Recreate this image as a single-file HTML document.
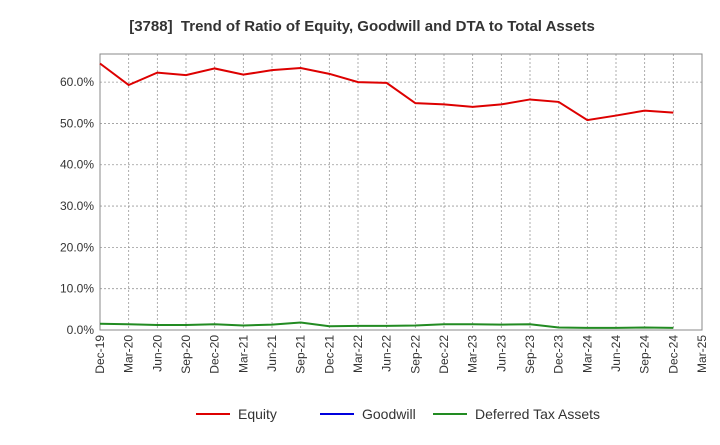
<!DOCTYPE html>
<html><head><meta charset="utf-8"><style>
body{margin:0;background:#fff;font-family:"Liberation Sans",sans-serif;}
</style></head><body>
<svg id="c" width="720" height="440" xmlns="http://www.w3.org/2000/svg">
<text x="362" y="31" text-anchor="middle" font-size="15" font-weight="bold" fill="#333" xml:space="preserve">[3788]  Trend of Ratio of Equity, Goodwill and DTA to Total Assets</text>
</svg>
<script>
const categories=["Dec-19","Mar-20","Jun-20","Sep-20","Dec-20","Mar-21","Jun-21","Sep-21","Dec-21","Mar-22","Jun-22","Sep-22","Dec-22","Mar-23","Jun-23","Sep-23","Dec-23","Mar-24","Jun-24","Sep-24","Dec-24","Mar-25"];
const equity=[64.5,59.3,62.3,61.7,63.3,61.8,62.9,63.4,62.0,60.0,59.8,54.9,54.6,54.0,54.6,55.8,55.2,50.8,51.9,53.1,52.6];
const goodwill=[null,null,null,null,null,null,null,null,null,null,null,null,null,null,null,null,null,null,null,null,null];
const dta=[1.5,1.4,1.2,1.2,1.4,1.1,1.3,1.8,0.9,1.0,1.0,1.1,1.4,1.4,1.3,1.4,0.6,0.5,0.5,0.6,0.5];
const yTicks=[0,10,20,30,40,50,60];
const svg=document.getElementById('c');const NS='http://www.w3.org/2000/svg';
const L=100,R=702,T=54,B=330,yMax=66.8;
const x=i=>L+(R-L)*i/(categories.length-1);
const y=v=>B-(B-T)*v/yMax;
function mk(t,a,p){const e=document.createElementNS(NS,t);for(const k in a)e.setAttribute(k,a[k]);(p||svg).appendChild(e);return e;}
const g=mk('g',{});


categories.forEach((c,i)=>{
 if(i>0&&i<categories.length-1)mk('line',{x1:x(i),x2:x(i),y1:T,y2:B,stroke:'#999','stroke-dasharray':'2,2','stroke-width':0.8},g);
 const t=mk('text',{transform:`translate(${x(i)+4},${B+5}) rotate(-90)`,'text-anchor':'end','font-size':12,fill:'#333'});
 t.textContent=c;
 
 
});
yTicks.forEach(v=>{
 if(v>0)mk('line',{x1:L,x2:R,y1:y(v),y2:y(v),stroke:'#999','stroke-dasharray':'2,2','stroke-width':0.8},g);
 const t=mk('text',{x:L-6,y:y(v)+4,'text-anchor':'end','font-size':12,fill:'#333'});
 t.textContent=v.toFixed(1)+'%';
 
 
});
const fr=mk('rect',{x:L,y:T,width:R-L,height:B-T,fill:'none',stroke:'#888'});


function line(d,col,name){const pts=d.map((v,i)=>v==null?null:x(i)+','+y(v)).filter(p=>p);if(pts.length<2)return;
const p=mk('polyline',{points:pts.join(' '),fill:'none',stroke:col,'stroke-width':2});

}
line(goodwill,'#0000dd','goodwill-line');
line(dta,'#228b22','dta-line');
line(equity,'#dd0000','equity-line');
const leg=[["Equity",'#dd0000',196],["Goodwill",'#0000dd',320],["Deferred Tax Assets",'#228b22',433]];
leg.forEach(([n,c,lx])=>{const lg=mk('g',{});


mk('line',{x1:lx,x2:lx+34,y1:414,y2:414,stroke:c,'stroke-width':2},lg);
const t=mk('text',{x:lx+42,y:419,'font-size':14,fill:'#333'},lg);t.textContent=n;});
</script>
</body></html>
